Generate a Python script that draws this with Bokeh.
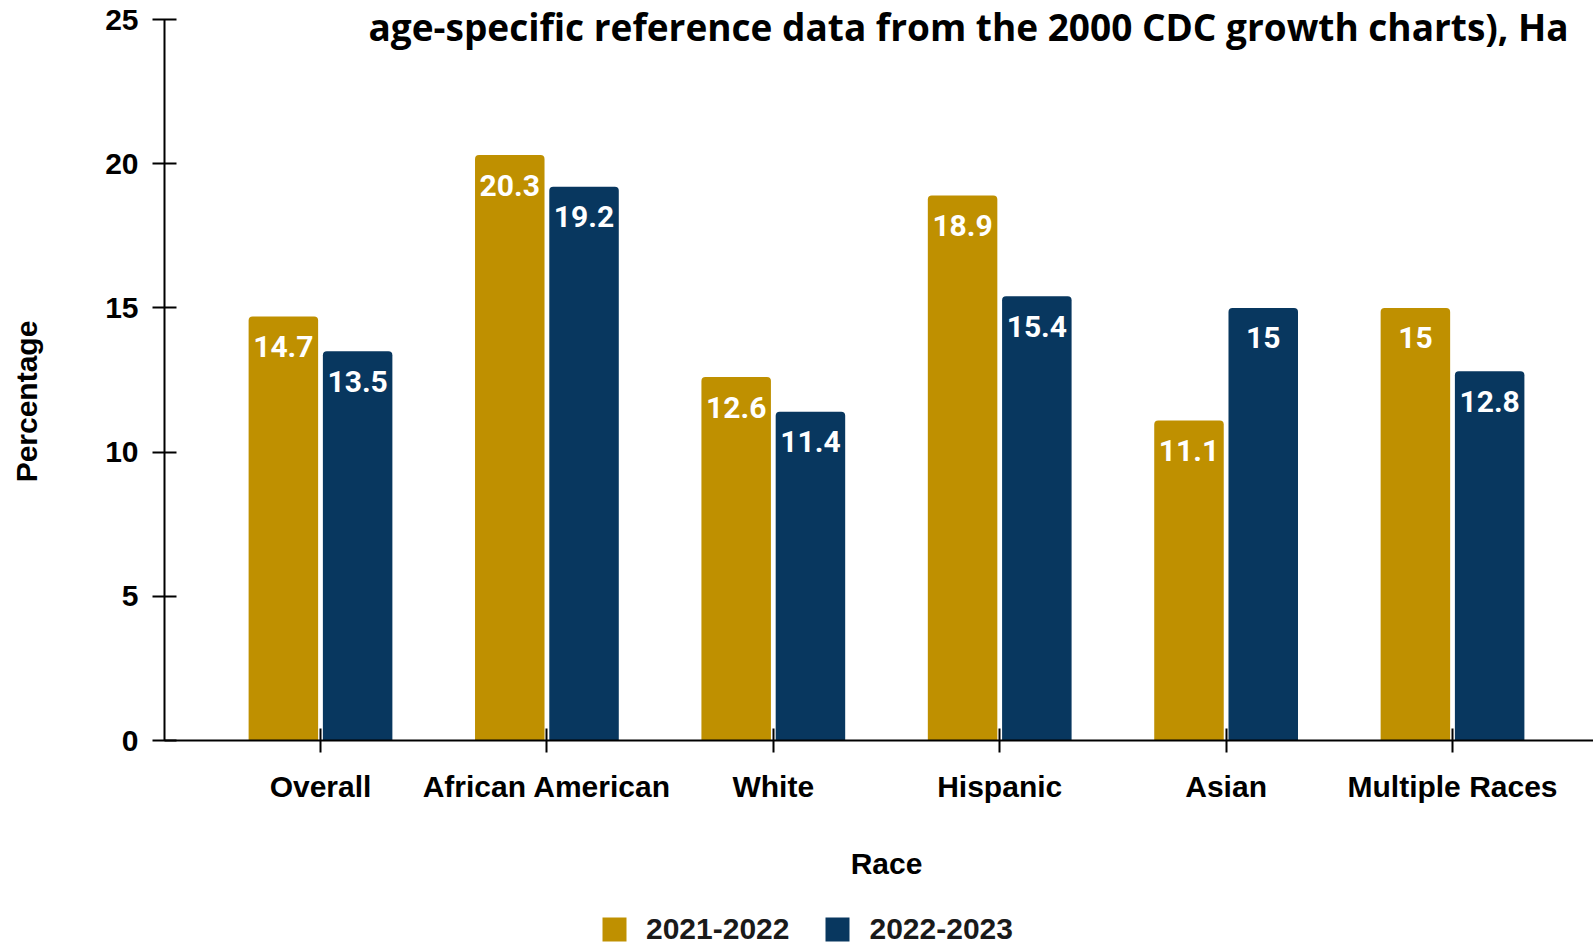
from bokeh.plotting import figure
from bokeh.models import Range1d, FixedTicker, Label, Legend, LegendItem, ColumnDataSource
from bokeh.core.properties import value
from bokeh.embed import file_html
from bokeh.resources import INLINE
import math

categories = ["Overall", "African American", "White", "Hispanic", "Asian", "Multiple Races"]
series_names = ["2021-2022", "2022-2023"]
values_2021_2022 = [14.7, 20.3, 12.6, 18.9, 11.1, 15.0]
values_2022_2023 = [13.5, 19.2, 11.4, 15.4, 15.0, 12.8]
y_ticks = [0, 5, 10, 15, 20, 25]
title_text = "age-specific reference data from the 2000 CDC growth charts), Ha"
x_label = "Race"
y_label = "Percentage"

GOLD = "#BF9000"
BLUE = "#08375F"
AXIS_FONT = "Liberation Sans"

W, H = 1593, 944
idx = list(range(len(categories)))

# frame covers the whole canvas; axes are pinned at fixed data locations
X0, X1 = -1.4134, 5.6227
Y0, Y1 = -7.0735, 25.659
p = figure(width=W, height=H, output_backend="svg", toolbar_location=None,
           x_range=Range1d(X0, X1), y_range=Range1d(Y0, Y1),
           min_border=0)
p.outline_line_color = None
p.xgrid.grid_line_color = None
p.ygrid.grid_line_color = None
p.background_fill_color = "white"
p.border_fill_color = "white"

bw = 0.307
off = 0.164
s1 = ColumnDataSource(dict(x=[i - off for i in idx], top=values_2021_2022,
                           lab=[f"{v:g}" for v in values_2021_2022]))
s2 = ColumnDataSource(dict(x=[i + off for i in idx], top=values_2022_2023,
                           lab=[f"{v:g}" for v in values_2022_2023]))
r1 = p.vbar(x="x", top="top", bottom=0, width=bw, source=s1, fill_color=GOLD, line_color=None,
            border_radius=(4, 4, 0, 0))
r2 = p.vbar(x="x", top="top", bottom=0, width=bw, source=s2, fill_color=BLUE, line_color=None,
            border_radius=(4, 4, 0, 0))

for s in (s1, s2):
    p.text(x="x", y="top", text="lab", source=s, text_color="white",
           text_font=value("Roboto"), text_font_style="bold", text_font_size="30px",
           text_align="center", text_baseline="alphabetic", y_offset=30)

# axes
y_axis_x = -0.689
for ax in (p.xaxis[0], p.yaxis[0]):
    ax.axis_line_color = "black"
    ax.axis_line_width = 2
    ax.major_tick_line_color = "black"
    ax.major_tick_line_width = 2
    ax.minor_tick_line_color = None
    ax.major_tick_in = 12
    ax.major_tick_out = 12
    ax.major_label_text_font = AXIS_FONT
    ax.major_label_text_font_style = "bold"
    ax.major_label_text_font_size = "30px"
    ax.major_label_text_color = "black"

p.yaxis[0].ticker = FixedTicker(ticks=y_ticks)
p.yaxis[0].major_label_standoff = 14
p.yaxis[0].fixed_location = y_axis_x
p.yaxis[0].bounds = (y_ticks[0], y_ticks[-1])
p.xaxis[0].ticker = FixedTicker(ticks=idx)
p.xaxis[0].major_label_overrides = {i: c for i, c in zip(idx, categories)}
p.xaxis[0].major_label_standoff = 17
p.xaxis[0].fixed_location = 0
p.xaxis[0].bounds = (y_axis_x, X1)

p.add_layout(Label(x=26, y=H - 401, x_units="screen", y_units="screen", text=y_label,
                   angle=math.pi / 2, text_align="center", text_baseline="middle",
                   text_font=AXIS_FONT, text_font_style="bold", text_font_size="30px",
                   text_color="black"))
p.add_layout(Label(x=886, y=H - 863, x_units="screen", y_units="screen", text=x_label,
                   text_align="center", text_baseline="alphabetic",
                   text_font=AXIS_FONT, text_font_style="bold", text_font_size="30px",
                   text_color="black"))
p.add_layout(Label(x=368, y=H - 26, x_units="screen", y_units="screen", text=title_text,
                   text_align="left", text_baseline="alphabetic",
                   text_font="Open Sans", text_font_style="bold", text_font_size="37px",
                   text_color="black"))

legend = Legend(items=[LegendItem(label=series_names[0], renderers=[r1]),
                       LegendItem(label=series_names[1], renderers=[r2])],
                orientation="horizontal", location=(599, -2),
                glyph_width=30, glyph_height=30, label_height=30, label_standoff=17,
                spacing=33, padding=0, margin=0, border_line_color=None,
                background_fill_alpha=0,
                label_text_font=AXIS_FONT, label_text_font_style="bold",
                label_text_font_size="30px", label_text_color="#1a1a1a")
p.add_layout(legend, "center")

open("out.html", "w").write(file_html(p, INLINE))
